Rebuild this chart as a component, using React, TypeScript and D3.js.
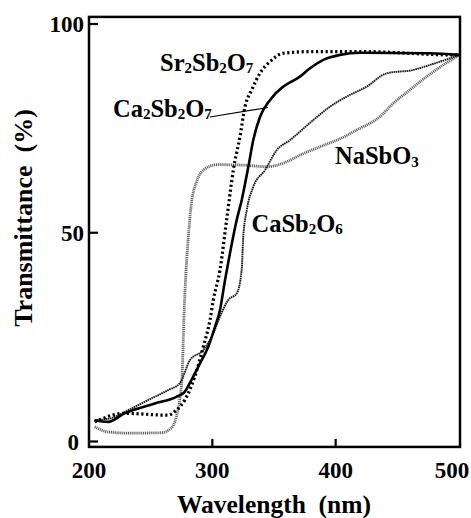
import React from "react";
import * as d3 from "d3";

// wavelengths (nm) and transmittance (%)
const srWl = [204.6, 228.9, 264, 270.8, 277.6, 281.6, 285.7, 292.7, 298.1, 300.8, 306.2, 311.6, 317, 322.4, 326.5, 331.9, 338.6, 346.8, 357.5, 381.6, 422, 495, 500];
const srT = [4.7, 6.75, 6.3, 7.5, 9.9, 12.3, 15.5, 22.7, 29.1, 33.9, 41.1, 53.1, 65, 73, 80.2, 84.2, 88.2, 91, 93, 93.4, 93.4, 92.6, 92.6];

const caWl = [204.6, 215.4, 228.9, 253.3, 270.8, 277.6, 283, 290, 296.7, 302.2, 306.2, 310.3, 314.3, 319.8, 323.8, 329.2, 333.2, 338.7, 346.8, 357.5, 363, 371, 379.2, 390, 403.5, 419.7, 476.5, 500];
const caT = [5.1, 4.7, 6.75, 9.1, 10.7, 11.9, 14.7, 18.7, 22.7, 27.5, 31.5, 38.7, 45.1, 53.1, 57.8, 65.8, 72.2, 77.8, 81.8, 85, 86, 87.4, 89.4, 91.4, 92.6, 93.1, 93, 92.6];

const naWl = [204.6, 215.4, 231.6, 258.6, 266.7, 270.8, 273.5, 275.5, 277, 278.5, 280.3, 283, 287, 292.7, 303.5, 325.1, 344, 360.3, 371.1, 387.3, 403.5, 417, 435.9, 446.7, 460.2, 473.8, 487.3, 498.1, 500];
const naT = [3.5, 2.3, 2.0, 2.1, 3.2, 5.9, 9.9, 16, 30, 40, 48, 57, 62, 65, 66.3, 66.2, 65.8, 67, 68.6, 70.6, 72.5, 74.6, 77.8, 81, 84.2, 87.4, 90.2, 92.2, 92.6];

const csWl = [204.6, 218.1, 231.6, 247.8, 264.1, 273.5, 281.9, 292.7, 300.8, 306.2, 312.9, 319.8, 323.8, 325.1, 327.9, 333.2, 342.7, 352.2, 363, 381.9, 395.4, 408.9, 425.1, 441.3, 463, 476.5, 492.7, 500];
const csT = [5.1, 5.6, 7.5, 9.9, 12.3, 13.9, 19.5, 21.9, 25.9, 29.9, 33.9, 35.5, 41.1, 49.1, 55.4, 61, 65, 69.8, 72.2, 77, 80.2, 82.6, 85, 88.2, 89, 90.2, 91.8, 92.6];

const xTicks = [200, 300, 400, 500];
const yTicks = [0, 50, 100];

const font = "'Liberation Serif', 'Times New Roman', serif";

const xs = d3.scaleLinear().domain([200, 500]).range([89, 459]);
const ys = d3.scaleLinear().domain([0, 100]).range([441.5, 24]);

const line = d3
  .line<[number, number]>()
  .x((d) => xs(d[0]))
  .y((d) => ys(d[1]))
  .curve(d3.curveMonotoneX);

const pts = (wl: number[], t: number[]) => wl.map((w, i) => [w, t[i]] as [number, number]);

// formula label: base text with subscript digits
function Formula({ x, y, parts }: { x: number; y: number; parts: [string, boolean][] }) {
  return (
    <text x={x} y={y} fontFamily={font} fontWeight="bold" fontSize={24.5}>
      {parts.map(([s, sub], i) => (
        <tspan
          key={i}
          fontSize={sub ? 15 : 24.5}
          dy={sub ? 2.5 : i > 0 && parts[i - 1][1] ? -2.5 : 0}
        >
          {s}
        </tspan>
      ))}
    </text>
  );
}

export default function App() {
  const left = xs(200);
  const right = xs(500) + 1;
  const top = ys(101.7);
  const bottom = ys(-1.3);

  return (
    <svg
      width={471}
      height={518}
      style={{ position: "absolute", left: 0, top: 0, background: "#fff" }}
    >
      <path d={line(pts(naWl, naT)) || ""} fill="none" stroke="#5e5e5e" strokeWidth={2.8} strokeDasharray="1.1 0.8" />
      <path d={line(pts(csWl, csT)) || ""} fill="none" stroke="#1a1a1a" strokeWidth={1.9} strokeDasharray="1.6 0.6" />
      <path d={line(pts(caWl, caT)) || ""} fill="none" stroke="#000" strokeWidth={2.6} />
      <path d={line(pts(srWl, srT)) || ""} fill="none" stroke="#000" strokeWidth={3.2} strokeDasharray="2.2 2.6" />

      {/* frame */}
      <rect x={left} y={top} width={right - left} height={bottom - top} fill="none" stroke="#000" strokeWidth={2.5} />

      {/* ticks */}
      {yTicks.map((v) => (
        <g key={"y" + v}>
          <line x1={left} x2={left + 9} y1={ys(v)} y2={ys(v)} stroke="#000" strokeWidth={2.2} />
          <text
            x={v === 0 ? 79 : 84}
            y={ys(v)}
            dy="0.35em"
            textAnchor="end"
            fontFamily={font}
            fontWeight="bold"
            fontSize={23}
          >
            {v}
          </text>
        </g>
      ))}
      {xTicks.map((v) => (
        <g key={"x" + v}>
          {v > 200 && v < 500 && (
            <line x1={xs(v)} x2={xs(v)} y1={bottom} y2={bottom - 8} stroke="#000" strokeWidth={2.2} />
          )}
          <text
            x={Math.min(xs(v), 452)}
            y={478}
            textAnchor="middle"
            fontFamily={font}
            fontWeight="bold"
            fontSize={23}
          >
            {v}
          </text>
        </g>
      ))}

      {/* axis titles */}
      <text
        x={274}
        y={513}
        textAnchor="middle"
        fontFamily={font}
        fontWeight="bold"
        fontSize={25.5}
        style={{ whiteSpace: "pre" }}
      >
        {"Wavelength  (nm)"}
      </text>
      <text
        transform="translate(31.5,218) rotate(-90)"
        textAnchor="middle"
        fontFamily={font}
        fontWeight="bold"
        fontSize={26}
        style={{ whiteSpace: "pre" }}
      >
        {"Transmittance  (%)"}
      </text>

      {/* series labels */}
      <Formula x={160} y={70.5} parts={[["Sr", false], ["2", true], ["Sb", false], ["2", true], ["O", false], ["7", true]]} />
      <Formula x={113} y={116.5} parts={[["Ca", false], ["2", true], ["Sb", false], ["2", true], ["O", false], ["7", true]]} />
      <Formula x={335} y={164} parts={[["NaSbO", false], ["3", true]]} />
      <Formula x={251.5} y={231.5} parts={[["CaSb", false], ["2", true], ["O", false], ["6", true]]} />
      <line x1={210} y1={117} x2={xs(345)} y2={ys(80)} stroke="#000" strokeWidth={1.2} />
    </svg>
  );
}
